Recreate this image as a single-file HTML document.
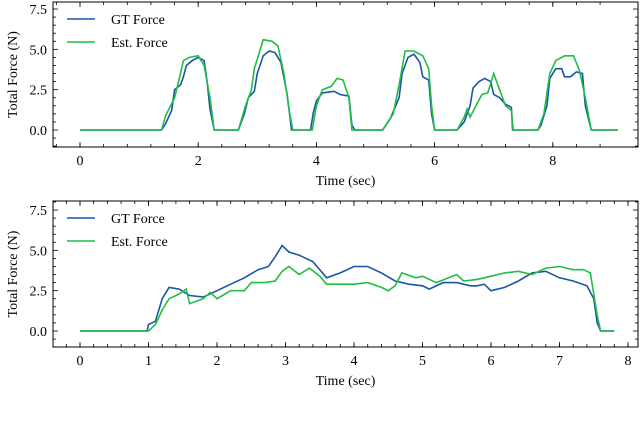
<!DOCTYPE html>
<html><head><meta charset="utf-8"><style>
body{margin:0;background:#fff}
svg{display:block;font-family:"Liberation Serif",serif}
</style></head><body>
<svg id="c" width="640" height="422"></svg>
<script>
const topGtT=[0,1.38,1.45,1.55,1.6,1.7,1.75,1.8,1.9,2.0,2.1,2.15,2.2,2.27,2.68,2.78,2.85,2.95,3.0,3.1,3.2,3.3,3.4,3.5,3.58,3.9,3.95,4.0,4.1,4.3,4.4,4.55,4.6,4.65,5.12,5.25,5.4,5.45,5.55,5.65,5.75,5.8,5.9,5.95,6.0,6.38,6.5,6.6,6.65,6.75,6.85,6.95,7.0,7.1,7.2,7.3,7.32,7.75,7.8,7.9,7.95,8.05,8.15,8.2,8.3,8.4,8.5,8.55,8.65,9.1];
const topGtV=[0,0,0.4,1.2,2.5,2.8,3.3,4.0,4.3,4.5,4.3,3.0,1.3,0,0,1.0,2.0,2.4,3.5,4.6,4.9,4.8,4.2,2.3,0,0,1.1,1.8,2.3,2.4,2.2,2.1,0.3,0,0,0.7,2.0,3.5,4.5,4.7,4.2,3.3,3.1,1.0,0,0,0.5,1.5,2.6,3.0,3.2,3.0,2.2,2.0,1.6,1.4,0,0,0.3,1.5,3.2,3.8,3.8,3.3,3.3,3.6,3.5,1.5,0,0];
const topEstT=[0,1.38,1.45,1.6,1.7,1.75,1.85,2.0,2.1,2.2,2.27,2.68,2.8,2.9,2.95,3.05,3.1,3.25,3.35,3.45,3.55,3.6,3.93,4.0,4.1,4.25,4.35,4.45,4.55,4.6,5.12,5.3,5.4,5.5,5.65,5.8,5.9,5.95,6.0,6.38,6.5,6.55,6.6,6.7,6.8,6.9,7.0,7.1,7.2,7.3,7.33,7.75,7.85,7.95,8.05,8.2,8.35,8.45,8.55,8.65,9.1];
const topEstV=[0,0,0.9,2.0,3.5,4.3,4.5,4.6,4.0,2.0,0,0,1.5,2.5,3.8,5.0,5.6,5.5,5.2,3.5,1.0,0,0,1.5,2.5,2.7,3.2,3.1,2.0,0,0,1.0,2.8,4.9,4.9,4.6,3.8,1.5,0,0,0.8,1.3,0.8,1.5,2.2,2.3,3.5,2.5,1.5,1.2,0,0,1.0,3.5,4.3,4.6,4.6,3.7,2.0,0,0];
const botGtT=[0,0.98,1.0,1.1,1.2,1.3,1.45,1.6,1.8,2.0,2.2,2.4,2.6,2.75,2.85,2.95,3.05,3.2,3.4,3.6,3.8,4.0,4.2,4.4,4.6,4.8,5.0,5.1,5.3,5.5,5.7,5.8,5.9,6.0,6.2,6.4,6.6,6.8,7.0,7.2,7.4,7.5,7.55,7.6,7.8];
const botGtV=[0,0,0.4,0.6,2.0,2.7,2.6,2.2,2.1,2.5,2.9,3.3,3.8,4.0,4.6,5.3,4.9,4.7,4.3,3.3,3.6,4.0,4.0,3.6,3.1,2.9,2.8,2.6,3.0,3.0,2.8,2.8,2.9,2.5,2.7,3.1,3.6,3.7,3.3,3.1,2.8,2.0,0.5,0,0];
const botEstT=[0,1.0,1.1,1.2,1.3,1.45,1.55,1.6,1.8,1.9,2.0,2.2,2.4,2.5,2.7,2.85,2.95,3.05,3.2,3.35,3.5,3.6,3.8,4.0,4.2,4.4,4.5,4.6,4.7,4.9,5.0,5.2,5.5,5.6,5.8,6.0,6.2,6.4,6.6,6.8,7.0,7.2,7.35,7.45,7.55,7.6,7.8];
const botEstV=[0,0,0.4,1.3,2.0,2.3,2.6,1.7,2.0,2.4,2.0,2.5,2.5,3.0,3.0,3.1,3.7,4.0,3.5,3.9,3.4,2.9,2.9,2.9,3.0,2.7,2.5,2.8,3.6,3.3,3.4,3.0,3.5,3.1,3.2,3.4,3.6,3.7,3.5,3.9,4.0,3.8,3.8,3.6,1.0,0,0];
const yTicks=[0.0,2.5,5.0,7.5];
const topXTicks=[0,2,4,6,8];
const botXTicks=[0,1,2,3,4,5,6,7,8];
const NS="http://www.w3.org/2000/svg";
const svg=document.getElementById('c');
function mk(t,a,p){const e=document.createElementNS(NS,t);for(const k in a)e.setAttribute(k,a[k]);(p||svg).appendChild(e);return e;}
function panel(name,box,x0px,pxPerX,y0px,xTicks,xMinorStep,xMax,gtT,gtV,esT,esV){
  const g=mk('g',{});
  
  
  const sx=v=>x0px+v*pxPerX, sy=v=>y0px-v*16.13;
  const [L,T,R,B]=box;
  for(let v=-1;v<=8;v+=0.5){const y=sy(v);if(y<T||y>B)continue;const maj=yTicks.includes(v);
    mk('line',{x1:L,x2:L+(maj?5:3),y1:y,y2:y,stroke:'#000','stroke-width':0.8},g);
    mk('line',{x1:R,x2:R-(maj?5:3),y1:y,y2:y,stroke:'#000','stroke-width':0.8},g);}
  for(let v=-0.4;v<=xMax;v+=xMinorStep){const x=sx(v);if(x<L||x>R)continue;
    mk('line',{x1:x,x2:x,y1:B,y2:B-3,stroke:'#000','stroke-width':0.8},g);
    mk('line',{x1:x,x2:x,y1:T,y2:T+3,stroke:'#000','stroke-width':0.8},g);}
  xTicks.forEach(v=>{const x=sx(v);
    mk('line',{x1:x,x2:x,y1:B,y2:B-5,stroke:'#000','stroke-width':0.8},g);
    mk('line',{x1:x,x2:x,y1:T,y2:T+5,stroke:'#000','stroke-width':0.8},g);
    const t=mk('text',{x:x,y:B+18,'text-anchor':'middle','font-size':14},g);t.textContent=v;
    
    });
  yTicks.forEach(v=>{const t=mk('text',{x:L-6,y:sy(v)+5,'text-anchor':'end','font-size':14},g);t.textContent=v.toFixed(1);
    
    });
  const pts=(T2,V)=>T2.map((t,i)=>sx(t).toFixed(1)+','+sy(V[i]).toFixed(1)).join(' ');
  const lg=mk('polyline',{points:pts(gtT,gtV),fill:'none',stroke:'#1b55a8','stroke-width':1.6},g);
  
  
  const le=mk('polyline',{points:pts(esT,esV),fill:'none',stroke:'#1fbe45','stroke-width':1.6},g);
  
  
  mk('rect',{x:L,y:T,width:R-L,height:B-T,fill:'none',stroke:'#000','stroke-width':1},g);
  [['GT Force','#1b55a8',T+17],['Est. Force','#1fbe45',T+40]].forEach(([lab,c,y])=>{
    mk('line',{x1:L+14,x2:L+42,y1:y,y2:y,stroke:c,'stroke-width':1.6},g);
    const t=mk('text',{x:L+58,y:y+5,'font-size':14},g);t.textContent=lab;
    
    });
  const xl=mk('text',{x:(L+R)/2,y:B+38,'text-anchor':'middle','font-size':14},g);xl.textContent='Time (sec)';
  
  
  const cy=(T+B)/2;
  const yl=mk('text',{x:17,y:cy,'text-anchor':'middle','font-size':14,transform:`rotate(-90 17 ${cy})`},g);yl.textContent='Total Force (N)';
  
  
}
panel('top-panel',[53,2,638,147],80,59.1,130,topXTicks,0.4,9.2,topGtT,topGtV,topEstT,topEstV);
panel('bottom-panel',[53,201,638,347],80,68.5,331,botXTicks,0.2,8.6,botGtT,botGtV,botEstT,botEstV);
</script>
</body></html>
